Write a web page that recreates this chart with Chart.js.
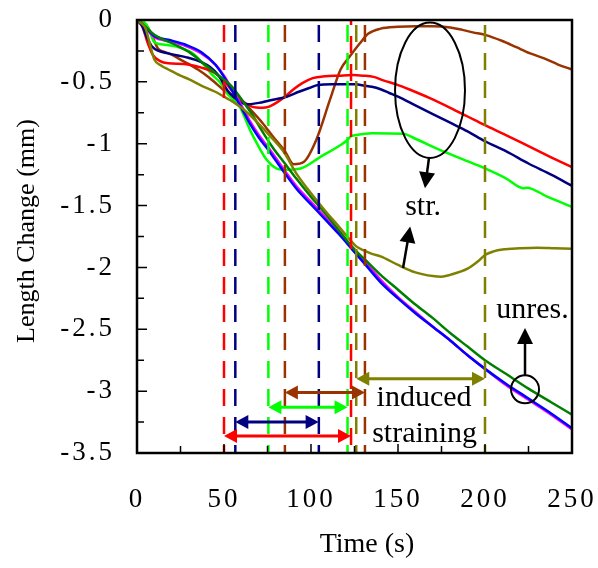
<!DOCTYPE html>
<html>
<head>
<meta charset="utf-8">
<script src="https://cdn.jsdelivr.net/npm/chart.js@4.4.1/dist/chart.umd.min.js"></script>
<style>
  html, body { margin: 0; padding: 0; background: #ffffff; }
</style>
</head>
<body>
<canvas id="graficoLength" width="598" height="568"></canvas>
<script>
// ---- data (time in s, length change in mm) ----
const tBlue = [0, 3, 10, 18, 28, 37, 45, 50, 55, 60, 65, 70, 76, 84, 92, 100, 108, 116, 124, 132, 140, 150, 160, 170, 180, 190, 200, 212, 225, 238, 250];
const vBlue = [0, -0.03, -0.13, -0.16, -0.20, -0.26, -0.36, -0.46, -0.58, -0.71, -0.84, -0.95, -1.06, -1.22, -1.37, -1.49, -1.61, -1.73, -1.86, -1.99, -2.12, -2.25, -2.37, -2.48, -2.59, -2.71, -2.82, -2.94, -3.06, -3.18, -3.30];

const tMagenta = [0, 3, 10, 18, 28, 37, 45, 50, 55, 60, 65, 70, 76, 84, 92, 100, 108, 116, 124, 132, 140, 150, 160, 170, 180, 190, 200, 212, 225, 238, 250];
const vMagenta = [0, -0.03, -0.14, -0.17, -0.21, -0.27, -0.36, -0.45, -0.57, -0.69, -0.82, -0.93, -1.04, -1.20, -1.35, -1.47, -1.59, -1.71, -1.84, -1.97, -2.10, -2.24, -2.36, -2.48, -2.59, -2.71, -2.82, -2.95, -3.07, -3.19, -3.31];

const tGreen = [0, 3, 10, 22, 30, 39, 46, 54, 60, 66, 72, 78, 85, 92, 100, 108, 116, 124, 132, 140, 150, 160, 170, 180, 190, 200, 212, 225, 238, 250];
const vGreen = [0, -0.03, -0.12, -0.20, -0.26, -0.36, -0.44, -0.53, -0.64, -0.76, -0.90, -1.03, -1.16, -1.29, -1.43, -1.56, -1.70, -1.84, -1.95, -2.06, -2.18, -2.30, -2.41, -2.53, -2.64, -2.75, -2.86, -2.98, -3.09, -3.19];

const tOlive = [0, 2, 5, 7.5, 10, 14, 18, 25, 30, 37, 45, 50, 55, 60, 65, 70, 76, 84, 92, 100, 108, 116, 122, 126, 130, 135, 140, 150, 160, 170, 175, 180, 190, 196, 200, 205, 210, 220, 230, 240, 250];
const vOlive = [0, -0.02, -0.07, -0.20, -0.32, -0.37, -0.40, -0.45, -0.48, -0.53, -0.58, -0.62, -0.66, -0.71, -0.77, -0.84, -0.93, -1.06, -1.25, -1.40, -1.54, -1.67, -1.77, -1.83, -1.86, -1.89, -1.91, -1.98, -2.04, -2.07, -2.075, -2.06, -2.01, -1.95, -1.90, -1.87, -1.855, -1.845, -1.84, -1.845, -1.85];

const tNavy = [0, 3, 6, 9, 18, 28, 37, 42, 47, 52, 56, 60, 64, 70, 76, 86, 93, 99, 104, 112, 120, 126, 130, 135, 140, 145, 150, 160, 170, 180, 190, 200, 212, 225, 238, 250];
const vNavy = [0, -0.05, -0.15, -0.22, -0.27, -0.30, -0.34, -0.38, -0.45, -0.57, -0.63, -0.67, -0.68, -0.67, -0.65, -0.62, -0.58, -0.55, -0.525, -0.52, -0.52, -0.52, -0.53, -0.54, -0.56, -0.59, -0.62, -0.69, -0.76, -0.83, -0.90, -0.98, -1.06, -1.16, -1.25, -1.34];

const tRed = [0, 3, 6, 9, 13, 18, 27, 37, 45, 50, 55, 60, 66, 72, 76, 80, 85, 90, 95, 101, 108, 116, 124, 130, 136, 142, 149, 158, 168, 180, 190, 200, 212, 225, 238, 250];
const vRed = [0, -0.05, -0.18, -0.28, -0.33, -0.35, -0.355, -0.385, -0.43, -0.49, -0.58, -0.65, -0.70, -0.71, -0.70, -0.67, -0.62, -0.56, -0.51, -0.47, -0.455, -0.45, -0.445, -0.45, -0.46, -0.49, -0.52, -0.57, -0.63, -0.71, -0.78, -0.85, -0.93, -1.02, -1.11, -1.19];

const tBrown = [0, 4, 7.5, 12, 16, 20, 25, 29, 35, 41, 46, 51, 59, 65, 72, 78, 85, 90, 96, 103, 111, 117, 122, 128, 133, 140, 150, 160, 170, 180, 187, 193, 200, 210, 218, 226, 234, 242, 250];
const vBrown = [0, -0.02, -0.09, -0.23, -0.26, -0.28, -0.32, -0.35, -0.40, -0.46, -0.52, -0.58, -0.63, -0.72, -0.83, -0.94, -1.06, -1.165, -1.145, -0.97, -0.64, -0.40, -0.30, -0.19, -0.11, -0.07, -0.055, -0.05, -0.05, -0.06, -0.08, -0.10, -0.12, -0.17, -0.22, -0.27, -0.31, -0.36, -0.40];

const tLime = [0, 3, 5.6, 8, 10, 16, 24, 33, 43, 48, 51, 55, 59, 65, 69, 74.5, 80, 84, 94, 105, 117, 121, 123, 126, 135, 153, 160, 174, 188, 200, 212, 222, 224, 236, 250];
const vLime = [0, -0.01, -0.04, -0.12, -0.18, -0.20, -0.22, -0.28, -0.44, -0.51, -0.58, -0.64, -0.70, -0.89, -1.00, -1.13, -1.20, -1.21, -1.20, -1.11, -1.01, -0.97, -0.94, -0.93, -0.915, -0.92, -0.96, -1.05, -1.13, -1.20, -1.28, -1.36, -1.355, -1.43, -1.51];

// vertical dashed markers
const markerTimes = [50, 56.5, 75.5, 85, 104.5, 121, 123, 126, 131, 200];
const markerColors = ['#ff0000', '#000080', '#00ff00', '#993300', '#000080', '#00ff00', '#ff0000', '#808000', '#993300', '#808000'];

// double arrows (induced straining windows)
const spanStart = [50, 56.5, 75.5, 85, 126];
const spanEnd = [123, 104.4, 121, 131, 200];
const spanLevel = [-3.363, -3.25, -3.13, -3.01, -2.90];
const spanColors = ['#ff0000', '#000080', '#00ff00', '#993300', '#808000'];

const yTicks = ['0', '-0.5', '-1', '-1.5', '-2', '-2.5', '-3', '-3.5'];

function pts(t, v) {
    return t.map((x, i) => ({ x: x, y: v[i] }));
}

let datasets = [];

// markers on top of the curves
markerTimes.forEach((t, i) => {
    datasets.push({
        data: [{ x: t, y: 0 }, { x: t, y: -3.5 }],
        borderColor: markerColors[i],
        borderWidth: 2.5,
        borderDash: [17, 11],
        borderDashOffset: i === 6 ? 12 : 23,
        pointRadius: 0,
        fill: false
    });
});

const curves = [
    [tOlive, vOlive, '#808000'],
    [tGreen, vGreen, '#008000'],
    [tBlue, vBlue, '#0000ff'],
    [tMagenta, vMagenta, '#ff00ff'],
    [tNavy, vNavy, '#000080'],
    [tRed, vRed, '#ff0000'],
    [tLime, vLime, '#00ff00'],
    [tBrown, vBrown, '#993300']
];
curves.forEach(c => {
    datasets.push({
        data: pts(c[0], c[1]),
        borderColor: c[2],
        borderWidth: 2.5,
        pointRadius: 0,
        cubicInterpolationMode: 'monotone',
        fill: false
    });
});

function head(ctx, x1, y1, x2, y2, len, half) {
    const a = Math.atan2(y2 - y1, x2 - x1);
    ctx.beginPath();
    ctx.moveTo(x2, y2);
    ctx.lineTo(x2 - len * Math.cos(a) + half * Math.sin(a), y2 - len * Math.sin(a) - half * Math.cos(a));
    ctx.lineTo(x2 - len * Math.cos(a) - half * Math.sin(a), y2 - len * Math.sin(a) + half * Math.cos(a));
    ctx.closePath();
    ctx.fill();
}

function arrow(ctx, x1, y1, x2, y2, len, half, width, color, both) {
    const a = Math.atan2(y2 - y1, x2 - x1);
    ctx.strokeStyle = color;
    ctx.fillStyle = color;
    ctx.lineWidth = width;
    ctx.beginPath();
    ctx.moveTo(both ? x1 + len * 0.8 * Math.cos(a) : x1, both ? y1 + len * 0.8 * Math.sin(a) : y1);
    ctx.lineTo(x2 - len * 0.8 * Math.cos(a), y2 - len * 0.8 * Math.sin(a));
    ctx.stroke();
    head(ctx, x1, y1, x2, y2, len, half);
    if (both) head(ctx, x2, y2, x1, y1, len, half);
}

const serif = '"Liberation Serif", "Times New Roman", serif';

// frame, inward ticks, arrows, notes and axis titles
const extras = {
    id: 'extras',
    beforeDraw(chart) {
        // the tick numbers in the original are set quite wide
        chart.ctx.letterSpacing = '3px';
    },
    afterDatasetsDraw(chart) {
        const ctx = chart.ctx;
        const xs = chart.scales.x, ys = chart.scales.y;
        const a = chart.chartArea;
        ctx.letterSpacing = '0px';
        ctx.save();

        // double arrows
        spanStart.forEach((s, i) => {
            arrow(ctx, xs.getPixelForValue(s), ys.getPixelForValue(spanLevel[i]),
                xs.getPixelForValue(spanEnd[i]), ys.getPixelForValue(spanLevel[i]),
                13, 7, 3, spanColors[i], true);
        });

        // ellipse around strained curves
        const ex = xs.getPixelForValue(168.4), ey = ys.getPixelForValue(-0.568);
        ctx.strokeStyle = '#000';
        ctx.lineWidth = 2;
        ctx.beginPath();
        ctx.ellipse(ex, ey, xs.getPixelForValue(188.5) - ex, ys.getPixelForValue(-1.115) - ey, 0, 0, Math.PI * 2);
        ctx.stroke();

        arrow(ctx, xs.getPixelForValue(167.8), ys.getPixelForValue(-1.116),
            xs.getPixelForValue(165.5), ys.getPixelForValue(-1.36), 16, 8, 2.5, '#000', false);
        arrow(ctx, xs.getPixelForValue(152.9), ys.getPixelForValue(-2.005),
            xs.getPixelForValue(157.0), ys.getPixelForValue(-1.67), 16, 8, 2.5, '#000', false);

        // circle on unrestrained curves
        const cx = xs.getPixelForValue(223), cy = ys.getPixelForValue(-2.985);
        ctx.strokeStyle = '#000';
        ctx.lineWidth = 2;
        ctx.beginPath();
        ctx.arc(cx, cy, 14, 0, Math.PI * 2);
        ctx.stroke();
        arrow(ctx, cx, cy - 14, cx, ys.getPixelForValue(-2.49), 16, 8, 2.5, '#000', false);

        // text notes
        ctx.fillStyle = '#000';
        ctx.font = '30px ' + serif;
        ctx.textAlign = 'center';
        ctx.textBaseline = 'alphabetic';
        ctx.fillText('str.', xs.getPixelForValue(164.4), ys.getPixelForValue(-1.576));
        ctx.fillText('unres.', xs.getPixelForValue(227.3), ys.getPixelForValue(-2.41));
        ctx.fillText('induced', xs.getPixelForValue(165), ys.getPixelForValue(-3.118));
        ctx.fillText('straining', xs.getPixelForValue(165.3), ys.getPixelForValue(-3.41));

        // axis titles
        ctx.textBaseline = 'middle';
        ctx.font = '28px ' + serif;
        ctx.fillText('Time (s)', a.left + 230, a.bottom + 92);
        ctx.save();
        ctx.translate(27, a.top + 211);
        ctx.rotate(-Math.PI / 2);
        ctx.font = '26px ' + serif;
        ctx.fillText('Length Change (mm)', 0, 0);
        ctx.restore();

        // frame
        ctx.strokeStyle = '#000';
        ctx.lineWidth = 2.5;
        ctx.strokeRect(a.left, a.top, a.right - a.left, a.bottom - a.top);

        // inward ticks
        ctx.lineWidth = 1.5;
        ctx.beginPath();
        for (let k = 0; k <= 14; k++) {
            const y = ys.getPixelForValue(-0.25 * k);
            ctx.moveTo(a.left, y);
            ctx.lineTo(a.left + (k % 2 === 0 ? 10 : 7), y);
        }
        for (let k = 1; k < 10; k++) {
            const x = xs.getPixelForValue(25 * k);
            ctx.moveTo(x, a.bottom);
            ctx.lineTo(x, a.bottom - (k % 2 === 0 ? 9 : 7));
        }
        ctx.stroke();
        ctx.restore();
    }
};

const config = {
    type: 'line',
    data: { datasets: datasets },
    options: {
        responsive: false,
        animation: false,
        events: [],
        layout: { padding: 0 },
        plugins: {
            legend: { display: false },
            tooltip: { enabled: false }
        },
        scales: {
            x: {
                type: 'linear',
                min: 0,
                max: 250,
                grid: { display: false, drawTicks: false },
                border: { display: false },
                ticks: {
                    stepSize: 50,
                    padding: 31,
                    color: '#000',
                    font: { family: serif, size: 27 },
                    maxRotation: 0
                },
                afterFit: function (scale) {
                    scale.height = 115;
                    scale.paddingLeft = 0;
                    scale.paddingRight = 26;
                }
            },
            y: {
                type: 'linear',
                min: -3.5,
                max: 0,
                grid: { display: false, drawTicks: false },
                border: { display: false },
                ticks: {
                    stepSize: 0.5,
                    padding: 22,
                    color: '#000',
                    font: { family: serif, size: 27 },
                    callback: function (value, index) {
                        return yTicks[Math.round(-value / 0.5)];
                    }
                },
                afterFit: function (scale) {
                    scale.width = 137;
                    scale.paddingTop = 20;
                    scale.paddingBottom = 0;
                }
            }
        }
    },
    plugins: [extras]
};

const ctx = document.getElementById('graficoLength').getContext('2d');
const grafico = new Chart(ctx, config);
</script>
</body>
</html>
